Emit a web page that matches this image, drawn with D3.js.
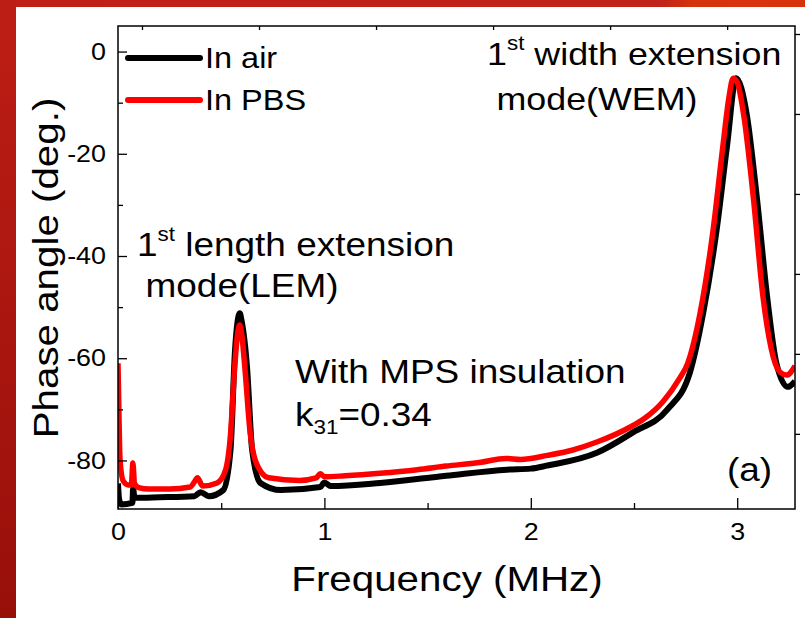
<!DOCTYPE html>
<html>
<head>
<meta charset="utf-8">
<script src="https://cdn.jsdelivr.net/npm/d3@7"></script>
<style>
  body { margin: 0; background: #fff; }
  svg { display: block; font-family: "Liberation Sans", Arial, sans-serif; }
</style>
</head>
<body>
<script>
// phase angle vs frequency
var freqAir  = [0, 0.005, 0.015, 0.07, 0.073, 0.08, 0.2, 0.37, 0.4, 0.44, 0.51, 0.545, 0.567, 0.59, 0.598, 0.625, 0.65, 0.69, 0.79, 0.98, 1.0, 1.03, 1.27, 1.59, 1.885, 2.0, 2.08, 2.32, 2.495, 2.66, 2.77, 2.835, 2.9, 2.95, 2.995, 3.045, 3.095, 3.145, 3.19, 3.245, 3.28];
var phaseAir = [-84.5, -87.5, -88.6, -88.3, -85.5, -87.3, -87.2, -87, -86.2, -87, -85.8, -78, -58.4, -51.2, -52.5, -61.7, -78, -84.4, -85.8, -85.2, -84.3, -85, -84.4, -83, -81.8, -81.6, -81, -78.5, -74.5, -70.1, -62.9, -51.2, -35, -18.7, -5.2, -12, -28.5, -48, -61, -65.6, -64.5];
var freqPBS  = [0, 0.005, 0.01, 0.025, 0.05, 0.065, 0.072, 0.08, 0.1, 0.15, 0.25, 0.35, 0.37, 0.385, 0.41, 0.48, 0.52, 0.545, 0.565, 0.58, 0.59, 0.6, 0.615, 0.64, 0.67, 0.73, 0.88, 0.96, 0.98, 1.0, 1.1, 1.27, 1.45, 1.59, 1.75, 1.88, 1.95, 2.08, 2.2, 2.32, 2.48, 2.55, 2.64, 2.72, 2.76, 2.82, 2.883, 2.93, 2.96, 2.98, 3.0, 3.03, 3.078, 3.125, 3.175, 3.21, 3.24, 3.28];
var phasePBS = [-61, -72, -80, -84, -84.8, -84.8, -80.5, -84.5, -85.3, -85.6, -85.6, -85.2, -84.2, -83.4, -85, -84.4, -82, -75, -62, -55, -53.5, -55.5, -62, -74.5, -80.5, -83.4, -83.9, -83.4, -82.6, -83.2, -83, -82.5, -81.8, -81.1, -80.4, -79.6, -79.8, -79, -78, -76.4, -73.5, -71.8, -68.5, -64, -61, -51.2, -35, -18.7, -9, -5.2, -6, -12, -28.5, -48, -59.8, -62.8, -63.3, -61.5];

var xTicks = [0, 1, 2, 3];
var xMinor = [0.5, 1.5, 2.5];
var yTicks = [0, -20, -40, -60, -80];
var yMinor = [-10, -30, -50, -70];
var seriesNames = ["In air", "In PBS"];
var seriesColors = ["#000000", "#ff0000"];

var W = 805, H = 618;
var svg = d3.select("body").append("svg").attr("width", W).attr("height", H);

// red frame like the slide it came from
var defs = svg.append("defs");
var gl = defs.append("linearGradient").attr("id", "leftg").attr("x1", 0).attr("y1", 0).attr("x2", 0).attr("y2", 1);
gl.append("stop").attr("offset", "0%").attr("stop-color", "#bd1e15");
gl.append("stop").attr("offset", "100%").attr("stop-color", "#980f0a");
var gt = defs.append("linearGradient").attr("id", "topg").attr("x1", 0).attr("y1", 0).attr("x2", 1).attr("y2", 0);
gt.append("stop").attr("offset", "0%").attr("stop-color", "#bf1f16");
gt.append("stop").attr("offset", "82%").attr("stop-color", "#c0211a");
gt.append("stop").attr("offset", "86%").attr("stop-color", "#d5320e");
gt.append("stop").attr("offset", "100%").attr("stop-color", "#d6330d");
svg.append("rect").attr("x", 0).attr("y", 0).attr("width", W).attr("height", 7).attr("fill", "url(#topg)");
svg.append("rect").attr("x", 0).attr("y", 0).attr("width", 16).attr("height", H).attr("fill", "url(#leftg)");

var x = d3.scaleLinear().domain([0, 3.28]).range([118, 795]);
var y = d3.scaleLinear().domain([-89.5, 5]).range([509, 26]);
// hidden companion axes, only their ticks show on top/right
var xTop = d3.scaleLinear().domain([-0.205, 5.58]).range([118, 795]);
var yRight = d3.scaleLinear().domain([-5.94, 0.1]).range([509, 26]);

var STRETCH = 1.12;

function label(g, px, py, size, anchor) {
  return g.append("g")
    .attr("transform", "translate(" + px + "," + py + ") scale(" + STRETCH + ",1)")
    .append("text")
    .attr("font-size", size)
    .attr("text-anchor", anchor || "start")
    .attr("fill", "#000");
}

defs.append("clipPath").attr("id", "plotclip").append("rect")
  .attr("x", 118).attr("y", 26).attr("width", 677).attr("height", 483);

var line = d3.line()
  .x(function(d) { return x(d[0]); })
  .y(function(d) { return y(d[1]); })
  .curve(d3.curveMonotoneX);

var airData = freqAir.map(function(f, i) { return [f, phaseAir[i]]; });
var pbsData = freqPBS.map(function(f, i) { return [f, phasePBS[i]]; });

var plot = svg.append("g").attr("clip-path", "url(#plotclip)");
plot.append("path").datum(airData).attr("d", line)
  .attr("fill", "none").attr("stroke", seriesColors[0]).attr("stroke-width", 6).attr("stroke-linejoin", "round");
plot.append("path").datum(pbsData).attr("d", line)
  .attr("fill", "none").attr("stroke", seriesColors[1]).attr("stroke-width", 5.5).attr("stroke-linejoin", "round");

// axes
function styleAxis(g) {
  g.select(".domain").remove();
  g.selectAll("line").attr("stroke", "#000").attr("stroke-width", 1.3);
}

var bottom = svg.append("g").attr("transform", "translate(0,509)")
  .call(d3.axisBottom(x).tickValues(xTicks).tickSize(-11).tickPadding(14).tickFormat(d3.format("d")));
styleAxis(bottom);
svg.append("g").attr("transform", "translate(0,509)")
  .call(d3.axisBottom(x).tickValues(xMinor).tickSize(-6).tickFormat("")).call(styleAxis);

var left = svg.append("g").attr("transform", "translate(118,0)")
  .call(d3.axisLeft(y).tickValues(yTicks).tickSize(-9).tickPadding(12).tickFormat(function(d) { return d === 0 ? "0" : "-" + Math.abs(d); }));
styleAxis(left);
svg.append("g").attr("transform", "translate(118,0)")
  .call(d3.axisLeft(y).tickValues(yMinor).tickSize(-5).tickFormat("")).call(styleAxis);

svg.append("g").attr("transform", "translate(0,26)")
  .call(d3.axisTop(xTop).tickValues([0, 1, 2, 3, 4, 5]).tickSize(-4).tickFormat("")).call(styleAxis);
svg.append("g").attr("transform", "translate(795,0)")
  .call(d3.axisRight(yRight).tickValues([0, -1, -2, -3, -4, -5]).tickSize(5).tickFormat("")).call(styleAxis);

[bottom, left].forEach(function(g) {
  g.selectAll("text")
    .attr("font-family", "'Liberation Sans', Arial, sans-serif")
    .attr("font-size", 24)
    .attr("fill", "#000")
    .each(function() {
      var t = d3.select(this);
      var tx = +t.attr("x") || 0;
      t.attr("x", tx / STRETCH).attr("transform", "scale(" + STRETCH + ",1)");
    });
});

svg.append("rect").attr("x", 118).attr("y", 26).attr("width", 677).attr("height", 483)
  .attr("fill", "none").attr("stroke", "#000").attr("stroke-width", 1.5);

// axis titles
label(svg, 447, 591, 36, "middle").text("Frequency (MHz)");
svg.append("g").attr("transform", "translate(58,268) rotate(-90) scale(" + STRETCH + ",1)")
  .append("text").attr("font-size", 36).attr("text-anchor", "middle").text("Phase angle (deg.)");

// legend
seriesNames.forEach(function(name, i) {
  var ly = i === 0 ? 58 : 100;
  svg.append("line").attr("x1", 128).attr("x2", 200).attr("y1", ly).attr("y2", ly)
    .attr("stroke", seriesColors[i]).attr("stroke-width", 6).attr("stroke-linecap", "round");
  label(svg, 205, ly + 10, 29).text(name);
});

// annotations
var t1 = label(svg, 487, 65, 32);
t1.append("tspan").text("1");
t1.append("tspan").attr("font-size", 20).attr("dy", -15).text("st");
t1.append("tspan").attr("dy", 15).text(" width extension");
label(svg, 597, 110, 32, "middle").text("mode(WEM)");

var t2 = label(svg, 137, 256, 33);
t2.append("tspan").text("1");
t2.append("tspan").attr("font-size", 20).attr("dy", -15).text("st");
t2.append("tspan").attr("dy", 15).text(" length extension");
label(svg, 242, 297, 33, "middle").text("mode(LEM)");

label(svg, 295, 383, 33).text("With MPS insulation");
var t3 = label(svg, 295, 426, 33);
t3.append("tspan").text("k");
t3.append("tspan").attr("font-size", 20).attr("dy", 8).text("31");
t3.append("tspan").attr("dy", -8).text("=0.34");

label(svg, 727, 481, 33).text("(a)");
</script>
</body>
</html>
